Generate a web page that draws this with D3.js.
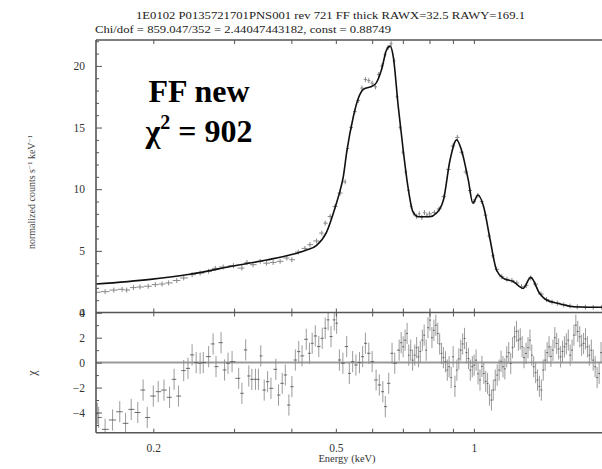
<!DOCTYPE html>
<html><head><meta charset="utf-8">
<script src="https://cdn.jsdelivr.net/npm/d3@7"></script>
<style>
html,body{margin:0;padding:0;background:#fff;}
svg{display:block;}
.serif{font-family:"Liberation Serif","Times New Roman",serif;}
.ann{font-family:"Liberation Serif","Times New Roman",Times,serif;font-weight:700;}
</style></head>
<body>
<svg id="chart" width="602" height="469"></svg>
<script>
// ---------- Data ----------
const titleLine1 = "1E0102 P0135721701PNS001 rev 721 FF thick RAWX=32.5 RAWY=169.1";
const titleLine2 = "Chi/dof = 859.047/352 = 2.44047443182, const = 0.88749";
const annotLine1 = "FF new";
const xLabel = "Energy (keV)";

// model curve (keV, normalized counts/s/keV)
const modelE = [0.150,0.197,0.240,0.299,0.353,0.397,0.430,0.454,0.477,0.500,0.510,0.519,0.528,0.546,0.560,0.574,0.603,0.612,0.629,0.645,0.657,0.667,0.684,0.701,0.718,0.736,0.756,0.801,0.828,0.858,0.887,0.917,0.939,0.972,0.995,1.020,1.050,1.085,1.120,1.160,1.220,1.280,1.330,1.390,1.440,1.520,1.650,1.900,2.000];
const modelV = [2.31,2.69,3.10,3.77,4.26,4.66,5.05,5.45,6.50,8.70,9.80,11.0,13.0,15.9,17.4,18.1,18.4,18.6,19.7,21.3,21.6,20.75,16.7,13.2,10.2,8.18,7.77,7.77,8.05,9.12,12.37,14.0,13.2,10.75,8.86,9.53,8.58,5.88,3.45,2.77,2.50,1.96,2.85,1.56,1.01,0.75,0.47,0.42,0.42];

// data points in the upper panel
const dataE = [0.150,0.157,0.164,0.171,0.175,0.181,0.187,0.195,0.202,0.209,0.216,0.225,0.233,0.243,0.253,0.264,0.273,0.284,0.299,0.312,0.320,0.330,0.342,0.353,0.365,0.378,0.391,0.401,0.414,0.428,0.439,0.454,0.466,0.474,0.486,0.498,0.511,0.524,
  0.53,0.54,0.55,0.56,0.57,0.58,0.59,0.60,0.61,0.62,0.63,0.64,0.65,0.66,0.67,0.68,0.69,0.70,0.71,0.72,0.73,0.74,0.75,0.76,0.77,0.78,0.79,0.80,0.82,0.84,0.86,0.88,0.90,0.92,0.94,0.96,0.98,1.00,1.02,1.04,1.06,1.08,1.10,1.12,1.15,1.18,1.21,1.24,1.27,1.30,1.33,1.36,1.40,1.44,1.48,1.52,1.57,1.62,1.68,1.75,1.82,1.90];
const dataV = [1.64,1.69,1.82,1.88,1.82,2.02,2.07,2.13,2.26,2.31,2.40,2.59,2.80,3.07,3.20,3.34,3.58,3.69,3.80,3.60,4.06,3.88,4.15,4.00,4.06,4.15,4.42,4.28,4.90,5.20,5.50,5.80,6.44,7.25,7.79,8.60,9.69,10.6,
  13.3,15.0,16.3,17.2,18.2,18.9,18.8,18.6,18.3,19.3,20.0,20.9,21.5,21.8,20.4,17.5,15.0,13.0,11.4,9.9,8.6,8.0,7.8,8.0,7.7,8.1,7.9,8.0,8.1,8.4,9.4,11.6,13.5,14.2,13.0,11.4,9.9,9.0,9.5,9.0,7.9,6.2,4.6,3.5,2.9,2.7,2.6,2.4,2.1,2.2,2.8,2.3,1.5,1.05,0.85,0.75,0.62,0.52,0.46,0.43,0.42,0.41];

// residuals (chi) in the lower panel
const resE = [0.151,0.152,0.157,0.163,0.169,0.174,0.179,0.185,0.190,0.194,0.200,0.205,0.211,0.217,0.222,0.227,0.233,0.238,0.243,0.248,0.253,0.257,0.264,0.270,0.274,0.281,0.286,0.291,0.297,0.307,0.312,0.318,0.323,0.328,0.334,0.339,0.343,0.349,0.355,0.361,0.370,0.375,0.382,0.388,0.395,0.401,0.408,0.415,0.422,0.431,0.438,0.444,0.451,0.459,0.467,0.474,0.481,0.488,0.496,0.502,0.509,0.518,0.528,0.535,0.544,0.553,0.563,0.572,0.580,0.590,0.600,0.612,0.622,0.633,0.641,0.652,0.663,0.672,
  0.687,0.701,0.715,0.728,0.743,0.757,0.772,0.787,0.802,0.818,0.834,0.850,0.867,0.883,0.901,0.918,0.936,0.954,0.973,0.992,1.011,1.031,1.051,1.071,1.092,1.113,1.135,1.157,1.179,1.203,1.226,1.250,1.274,1.299,1.325,1.350,1.376,1.403,1.430,1.458,1.487,1.515,1.545,1.575,1.606,1.637,1.668,1.701,1.734,1.768,1.803,1.838,1.875,
  0.694,0.708,0.721,0.735,0.750,0.764,0.779,0.794,0.810,0.826,0.842,0.858,0.875,0.892,0.909,0.927,0.945,0.963,0.982,1.001,1.021,1.041,1.061,1.081,1.102,1.124,1.146,1.168,1.191,1.214,1.238,1.262,1.286,1.312,1.337,1.363,1.389,1.416,1.444,1.472,1.501,1.530,1.560,1.590,1.621,1.652,1.684,1.717,1.751,1.785,1.820,1.856,1.893];
const resV = [-4.07,-4.40,-5.35,-4.60,-3.94,-4.87,-3.75,-4.00,-2.20,-4.40,-2.68,-2.33,-2.20,-2.78,-1.34,-2.68,-0.64,-0.46,0.62,0.00,-0.05,0.00,0.48,1.50,-0.32,1.60,-0.59,-0.05,0.08,-1.26,-2.46,1.02,-1.07,-1.34,-1.34,-1.34,0.54,-2.20,-1.53,-2.06,-0.54,-2.60,-1.66,-0.99,-3.40,-1.93,0.21,0.88,0.54,1.87,0.75,1.55,2.14,1.29,1.95,2.76,3.43,2.09,3.43,3.16,0.21,-0.05,1.29,-0.86,0.08,-0.19,0.00,0.48,1.55,0.75,0.08,-1.39,-1.79,-2.33,-3.53,-1.66,0.75,-0.05,
  1.00,1.27,2.34,1.00,0.60,0.47,1.80,1.00,3.41,2.60,2.34,0.74,0.07,-0.33,0.47,-0.60,1.00,1.94,0.33,-0.33,0.20,-1.40,-0.87,-1.67,-3.00,-1.40,-0.60,-0.33,0.47,-0.07,2.07,1.80,1.27,0.74,1.80,-0.33,-1.40,-2.20,0.20,1.27,1.00,1.54,0.47,1.27,1.80,1.00,3.00,2.07,1.54,1.27,1.00,-0.33,-0.87,
  1.6,1.8,0.6,0.2,1.2,0.9,2.2,2.8,2.0,3.0,1.5,0.4,-0.6,-1.2,-1.9,0.3,1.5,0.8,-0.6,-0.2,-0.9,-0.3,-1.5,-2.6,-2.2,-1.0,0.1,-0.5,0.8,1.2,2.5,1.9,0.4,1.2,0.6,-0.8,-1.9,-0.6,0.8,0.5,2.0,1.1,0.9,1.5,0.6,2.2,2.5,1.4,1.9,0.6,0.2,-1.2,0.8];

const xTickValues = [0.2,0.3,0.4,0.5,0.6,0.7,0.8,0.9,1,2];
const xTickLabels = [0.2,0.5,1];
const yTopMajor = [5,10,15,20];
const yTopMinor = [1,2,3,4,6,7,8,9,11,12,13,14,16,17,18,19,21,22];
const yBotMajor = [-4,-2,0,2,4];
const yBotMinor = [-5,-3,-1,1,3];

// ---------- Layout ----------
const svg = d3.select("#chart");
const L = 96, R = 612, T = 40, MID = 312.5, B = 432.7;
const x = d3.scaleLog().domain([0.15, 2]).range([L, R]);
const yTop = d3.scaleLinear().domain([0, 22.1]).range([MID, T]);
const yBot = d3.scaleLinear().domain([-5.62, 4.02]).range([B, MID]);
const axisCol = "#555";

svg.append("defs").append("clipPath").attr("id","clipTop")
  .append("rect").attr("x",L).attr("y",T).attr("width",R-L).attr("height",MID-T);
svg.select("defs").append("clipPath").attr("id","clipBot")
  .append("rect").attr("x",L).attr("y",MID).attr("width",R-L).attr("height",B-MID);

// titles
svg.append("text").attr("class","serif").attr("x",330.5).attr("y",19).attr("text-anchor","middle")
  .attr("font-size",11).attr("fill","#222").attr("textLength",389).attr("lengthAdjust","spacingAndGlyphs")
  .text(titleLine1);
svg.append("text").attr("class","serif").attr("x",95).attr("y",32.5)
  .attr("font-size",11).attr("fill","#222").attr("textLength",296).attr("lengthAdjust","spacingAndGlyphs")
  .text(titleLine2);

// zero line in residual panel
svg.append("line").attr("x1",L).attr("x2",R).attr("y1",yBot(0)).attr("y2",yBot(0))
  .attr("stroke","#999").attr("stroke-width",2);

// half bin widths from neighbours
function halfBins(arr){
  const s = arr.map((e,i)=>({e,i})).sort((a,b)=>a.e-b.e);
  const hb = new Array(arr.length);
  s.forEach((d,k)=>{
    const prev = k>0 ? s[k-1].e : d.e/1.02;
    const next = k<s.length-1 ? s[k+1].e : d.e*1.02;
    hb[d.i] = [Math.sqrt(prev*d.e), Math.sqrt(next*d.e)];
  });
  return hb;
}

// upper panel data crosses
const gTop = svg.append("g").attr("clip-path","url(#clipTop)");
const hbTop = halfBins(dataE);
const topPts = dataE.map((e,i)=>({e, v:dataV[i], lo:hbTop[i][0], hi:hbTop[i][1]}));
const gTD = gTop.append("g").attr("stroke","#888").attr("stroke-width",1);
gTD.selectAll(".h").data(topPts).join("line")
  .attr("x1",d=>x(d.lo)).attr("x2",d=>x(d.hi)).attr("y1",d=>yTop(d.v)).attr("y2",d=>yTop(d.v));
gTD.selectAll(".v").data(topPts).join("line")
  .attr("x1",d=>x(d.e)).attr("x2",d=>x(d.e)).attr("y1",d=>yTop(d.v)-2.5).attr("y2",d=>yTop(d.v)+2.5);

// model
const line = d3.line().x(d=>x(d[0])).y(d=>yTop(d[1])).curve(d3.curveMonotoneX);
gTop.append("path").datum(modelE.map((e,i)=>[e,modelV[i]]))
  .attr("d",line).attr("fill","none").attr("stroke","#111").attr("stroke-width",1.6);

// residuals
const gBot = svg.append("g").attr("clip-path","url(#clipBot)");
const hbRes = halfBins(resE);
const resPts = resE.map((e,i)=>({e, v:resV[i], lo:hbRes[i][0], hi:hbRes[i][1]}));
const gR = gBot.append("g").attr("stroke","#8a8a8a").attr("stroke-width",1).attr("stroke-opacity",0.85);
gR.selectAll(".v").data(resPts).join("line")
  .attr("x1",d=>x(d.e)).attr("x2",d=>x(d.e)).attr("y1",d=>yBot(d.v+0.85)).attr("y2",d=>yBot(d.v-0.85));
gR.selectAll(".h").data(resPts).join("line")
  .attr("x1",d=>x(d.lo)).attr("x2",d=>x(d.hi)).attr("y1",d=>yBot(d.v)).attr("y2",d=>yBot(d.v))
  .attr("stroke","#555");

// axes
function styleAxis(g){
  g.select(".domain").remove();
  g.selectAll(".tick line").attr("stroke",axisCol).attr("stroke-width",1);
  g.selectAll(".tick text").attr("class","serif").attr("font-size",11.5).attr("fill","#333");
}
svg.append("g").attr("transform",`translate(0,${T})`)
  .call(d3.axisTop(x).tickValues(xTickValues).tickSize(-4).tickFormat("")).call(styleAxis);
svg.append("g").attr("transform",`translate(0,${MID})`)
  .call(d3.axisBottom(x).tickValues(xTickValues).tickSize(-4).tickFormat("")).call(styleAxis);
svg.append("g").attr("transform",`translate(0,${MID})`)
  .call(d3.axisTop(x).tickValues(xTickValues).tickSize(-4).tickFormat("")).call(styleAxis);
svg.append("g").attr("transform",`translate(0,${B})`)
  .call(d3.axisBottom(x).tickValues(xTickValues).tickSize(-4).tickPadding(11)
    .tickFormat(d=>xTickLabels.includes(d)?String(d):"")).call(styleAxis);

svg.append("g").attr("transform",`translate(${L},0)`)
  .call(d3.axisLeft(yTop).tickValues(yTopMajor).tickSize(-6).tickPadding(11)).call(styleAxis);
svg.append("g").attr("transform",`translate(${L},0)`)
  .call(d3.axisLeft(yTop).tickValues(yTopMinor).tickSize(-3).tickFormat("")).call(styleAxis);
svg.append("g").attr("transform",`translate(${L},0)`)
  .call(d3.axisLeft(yTop).tickValues([0]).tickSize(0).tickPadding(11)).call(styleAxis);
svg.append("g").attr("transform",`translate(${L},0)`)
  .call(d3.axisLeft(yBot).tickValues(yBotMajor).tickSize(-6).tickPadding(11)
    .tickFormat(d=>d<0?"\u2212"+Math.abs(d):String(d))).call(styleAxis);
svg.append("g").attr("transform",`translate(${L},0)`)
  .call(d3.axisLeft(yBot).tickValues(yBotMinor).tickSize(-3).tickFormat("")).call(styleAxis);

// frame lines
const fr = svg.append("g").attr("stroke",axisCol).attr("stroke-width",1.6).attr("fill","none");
fr.append("line").attr("x1",L).attr("x2",L).attr("y1",T).attr("y2",B);
fr.append("line").attr("x1",L).attr("x2",R).attr("y1",T).attr("y2",T);
fr.append("line").attr("x1",L).attr("x2",R).attr("y1",MID).attr("y2",MID);
fr.append("line").attr("x1",L).attr("x2",R).attr("y1",B).attr("y2",B);

// axis labels
svg.append("text").attr("class","serif").attr("x",347).attr("y",462).attr("text-anchor","middle")
  .attr("font-size",10.5).attr("fill","#333").text(xLabel);
const yl = svg.append("text").attr("class","serif").attr("transform","translate(35,192) rotate(-90)")
  .attr("text-anchor","middle").attr("font-size",10).attr("fill","#444");
yl.append("tspan").text("normalized counts s");
yl.append("tspan").attr("dy",-3).attr("font-size",7).text("\u22121");
yl.append("tspan").attr("dy",3).text(" keV");
yl.append("tspan").attr("dy",-3).attr("font-size",7).text("\u22121");
svg.append("text").attr("class","serif").attr("transform","translate(36,373) rotate(-90)")
  .attr("text-anchor","middle").attr("font-size",12).attr("fill","#333").text("\u03c7");

// annotation
svg.append("text").attr("class","ann").attr("x",199).attr("y",102).attr("text-anchor","middle")
  .attr("font-size",32).attr("fill","#000").text(annotLine1);
const an = svg.append("text").attr("class","ann").attr("x",199).attr("y",142).attr("text-anchor","middle")
  .attr("font-size",32).attr("fill","#000");
an.append("tspan").text("\u03c7");
an.append("tspan").attr("dy",-13).attr("font-size",20).text("2");
an.append("tspan").attr("dy",13).text(" = 902");
</script>
</body></html>
